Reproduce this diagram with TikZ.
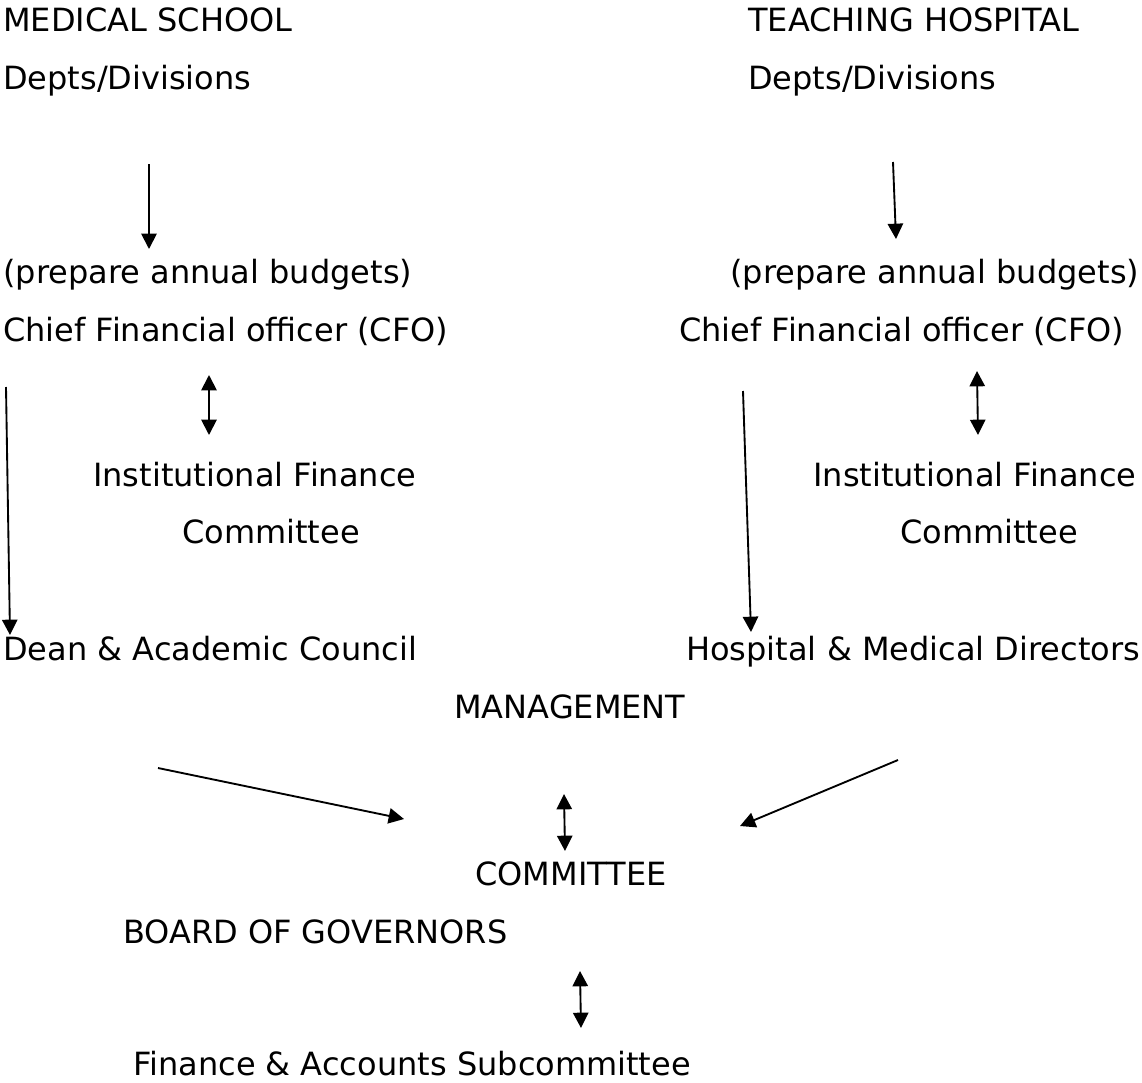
\documentclass[tikz,border=0pt]{standalone}
\usepackage{fontspec}
\setmainfont{DejaVu Sans}
\usepackage{tikz}
\usetikzlibrary{arrows, arrows.meta, positioning}
\tikzstyle{entry} = [anchor=base west, inner sep=0pt, font=\fontsize{24}{29}\selectfont]
\tikzstyle{link} = [line width=1.4pt, >={Triangle[length=11.5pt, width=11.5pt]}]

\begin{document}
\begin{tikzpicture}[x=0.75pt, y=-0.75pt]
        \useasboundingbox (0,0) rectangle (1142,1082);
        \begin{scope}
        % medical school side
        \node[entry] at (3,31) (medSchool) {MEDICAL SCHOOL};
        \node[entry] at (3,89) (medDepts) {Depts/Divisions};
        \node[entry] at (3,283) (medBudget) {(prepare annual budgets)};
        \node[entry] at (3,341) (medCFO) {Chief Financial officer (CFO)};
        \node[entry] at (93,486) (medIFC) {Institutional Finance};
        \node[entry] at (182,543) (medCom) {Committee};
        \node[entry] at (3,660) (dean) {Dean \& Academic Council};

        % teaching hospital side
        \node[entry] at (748,31) (hospSchool) {TEACHING HOSPITAL};
        \node[entry] at (748,89) (hospDepts) {Depts/Divisions};
        \node[entry] at (730,283) (hospBudget) {(prepare annual budgets)};
        \node[entry] at (679,341) (hospCFO) {Chief Financial officer (CFO)};
        \node[entry] at (813,486) (hospIFC) {Institutional Finance};
        \node[entry] at (900,543) (hospCom) {Committee};
        \node[entry] at (686,660) (hospDir) {Hospital \& Medical Directors};

        % joint part
        \node[entry] at (454,718) (management) {MANAGEMENT};
        \node[entry] at (475,885) (committee) {COMMITTEE};
        \node[entry] at (123,943) (board) {BOARD OF GOVERNORS};
        \node[entry] at (133,1075) (finance) {Finance \& Accounts Subcommittee};

        \draw[link, ->] ([shift={(146,75)}]medDepts.base west) -- ([shift={(146,-34)}]medBudget.base west);
        \draw[link, ->] ([shift={(145,73)}]hospDepts.base west) -- ([shift={(166,-44)}]hospBudget.base west);
        \draw[link, <->] ([shift={(206,34)}]medCFO.base west) -- ([shift={(116,-51)}]medIFC.base west);
        \draw[link, <->] ([shift={(298,30)}]hospCFO.base west) -- ([shift={(165,-51)}]hospIFC.base west);
        \draw[link, ->] ([shift={(3,46)}]medCFO.base west) -- ([shift={(7,-25)}]dean.base west);
        \draw[link, ->] ([shift={(64,50)}]hospCFO.base west) -- ([shift={(65,-28)}]hospDir.base west);
        \draw[link, ->] ([shift={(155,108)}]dean.base west) -- ([shift={(-71,-66)}]committee.base west);
        \draw[link, ->] ([shift={(212,100)}]hospDir.base west) -- ([shift={(265,-59)}]committee.base west);
        \draw[link, <->] ([shift={(110,76)}]management.base west) -- ([shift={(90,-34)}]committee.base west);
        \draw[link, <->] ([shift={(457,28)}]board.base west) -- ([shift={(448,-47)}]finance.base west);
        \end{scope}
\end{tikzpicture}
\end{document}
